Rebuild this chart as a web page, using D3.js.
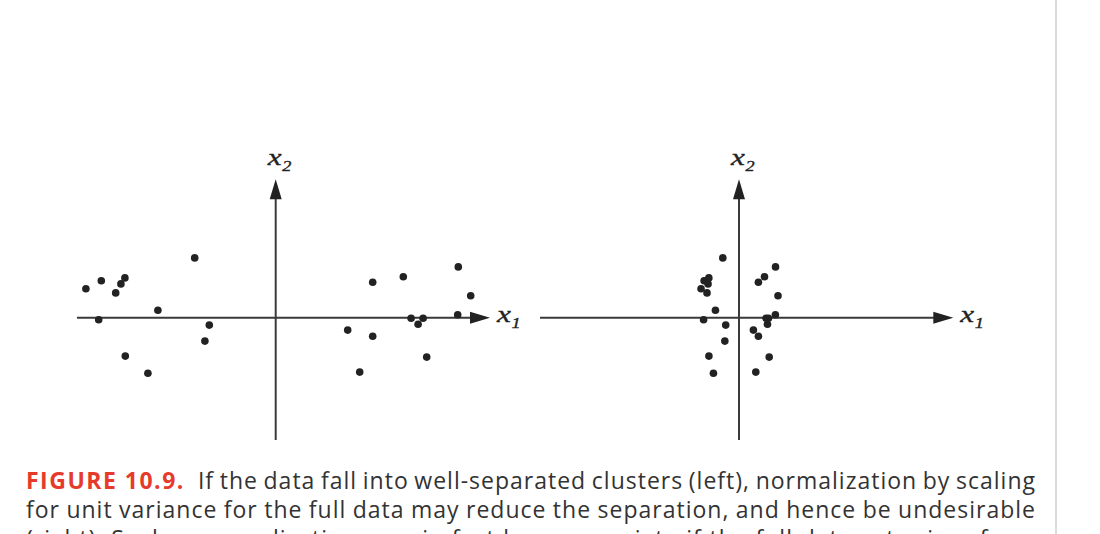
<!DOCTYPE html>
<html>
<head>
<meta charset="utf-8">
<script src="https://cdn.jsdelivr.net/npm/d3@7.9.0/dist/d3.min.js"></script>
<style>
  body { margin: 0; background: #fff; }
  svg { display: block; }
</style>
</head>
<body>
<svg id="fig" width="1100" height="534"></svg>
<script>
// ====== DATA (raw units) ======
const x1 = [-9.49, -8.72, -7.54, -7.74, -8.0, -8.85, -5.89, -4.05, -3.32, -3.54, -7.52, -6.39,
            4.85, 6.38, 9.13, 9.75, 9.10, 6.77, 7.37, 7.12, 3.60, 4.85, 7.55, 4.20];
const x2 = [1.45, 1.85, 1.99, 1.69, 1.24, -0.10, 0.37, 2.99, -0.37, -1.17, -1.92, -2.78,
            1.77, 2.05, 2.54, 1.10, 0.15, -0.03, -0.03, -0.33, -0.62, -0.93, -1.97, -2.72];
const points = x1.map((v, i) => ({ x1: v, x2: x2[i] }));

// right panel: x1 squeezed by unit-variance scaling (pixels per unit shrinks 5x)
const panels = [
  { name: "clusters", ox: 275.7, unit: 20, left: 77, right: 490 },
  { name: "normalized", ox: 739, unit: 4, left: 540, right: 953.3 }
];

const captionLines = [
  ["FIGURE 10.9.", "If the data fall into well-separated clusters (left), normalization by scaling"],
  [null, "for unit variance for the full data may reduce the separation, and hence be undesirable"],
  [null, "(right). Such a normalization may in fact be appropriate if the full data set arises from"]
];

// ====== LAYOUT ======
const oy = 317.7, yUnit = 20, yTop = 179.3, yBottom = 440;
const axisColor = "#3a3a3a";

const svg = d3.select("#fig");

// thin page-edge rule on the right
svg.append("line")
  .attr("x1", 1056).attr("x2", 1056).attr("y1", 0).attr("y2", 534)
  .attr("stroke", "#cfcfcf").attr("stroke-width", 1.5);

function arrow(g, tip, dir) {
  // filled triangle arrowhead, dir: "right" or "up"
  const L = 20, W = 6;
  const [tx, ty] = tip;
  const pts = dir === "right"
    ? [[tx, ty], [tx - L, ty - W], [tx - L, ty + W]]
    : [[tx, ty], [tx - W, ty + L], [tx + W, ty + L]];
  g.append("path")
    .attr("d", d3.line()(pts) + "Z")
    .attr("fill", "#222");
}

function axisLabel(g, x, y, sub) {
  // wide italic serif x with a small subscript
  const t = g.append("text")
    .attr("transform", `translate(${x},${y}) scale(1.3,1)`)
    .style("font-family", "'Liberation Serif', 'DejaVu Serif', serif")
    .style("font-style", "italic")
    .attr("fill", "#222")
    .attr("stroke", "#222")
    .attr("stroke-width", 0.35)
    .style("font-size", "24px");
  t.append("tspan").text("x");
  t.append("tspan").attr("dy", 6).attr("dx", 0.5).style("font-size", "14px").text(sub);
}

panels.forEach((p) => {
  const g = svg.append("g").attr("class", p.name);

  const x = d3.scaleLinear().domain([0, 1]).range([p.ox, p.ox + p.unit]);
  const y = d3.scaleLinear().domain([0, 1]).range([oy, oy - yUnit]);

  // horizontal axis
  g.append("line")
    .attr("x1", p.left).attr("x2", p.right - 12)
    .attr("y1", oy).attr("y2", oy)
    .attr("stroke", axisColor).attr("stroke-width", 2);
  arrow(g, [p.right, oy], "right");

  // vertical axis
  g.append("line")
    .attr("x1", p.ox).attr("x2", p.ox)
    .attr("y1", yBottom).attr("y2", yTop + 12)
    .attr("stroke", axisColor).attr("stroke-width", 2);
  arrow(g, [p.ox, yTop], "up");

  axisLabel(g, p.right + 7, oy + 4.5, "1");
  axisLabel(g, p.ox - 8, yTop - 14, "2");

  // points
  g.selectAll("circle")
    .data(points)
    .join("circle")
    .attr("cx", (d) => x(d.x1))
    .attr("cy", (d) => y(d.x2))
    .attr("r", 3.8)
    .attr("fill", "#222");
});

// ====== CAPTION ======
const capLeft = 26, capRight = 1036, capTop = 488.5, lineH = 29, leadGap = 13;
captionLines.forEach(([lead, body], i) => {
  const t = svg.append("text")
    .attr("x", capLeft)
    .attr("y", capTop + i * lineH)
    .style("font-family", "'Open Sans', 'Noto Sans', sans-serif")
    .style("font-size", "23px")
    .style("letter-spacing", "1px")
    .attr("fill", "#333");
  let bodySpan;
  if (lead) {
    t.append("tspan")
      .attr("font-weight", "bold")
      .attr("fill", "#e63b2a")
      .style("letter-spacing", "1.5px")
      .text(lead);
    bodySpan = t.append("tspan").attr("dx", leadGap).text(body);
  } else {
    bodySpan = t.append("tspan").text(body);
  }
  // justify by stretching the word gaps
  const natural = t.node().getComputedTextLength() + (lead ? leadGap : 0);
  const gaps = (body.match(/ /g) || []).length;
  const extra = (capRight - capLeft - natural) / gaps;
  bodySpan.style("word-spacing", extra + "px");
});
</script>
</body>
</html>
